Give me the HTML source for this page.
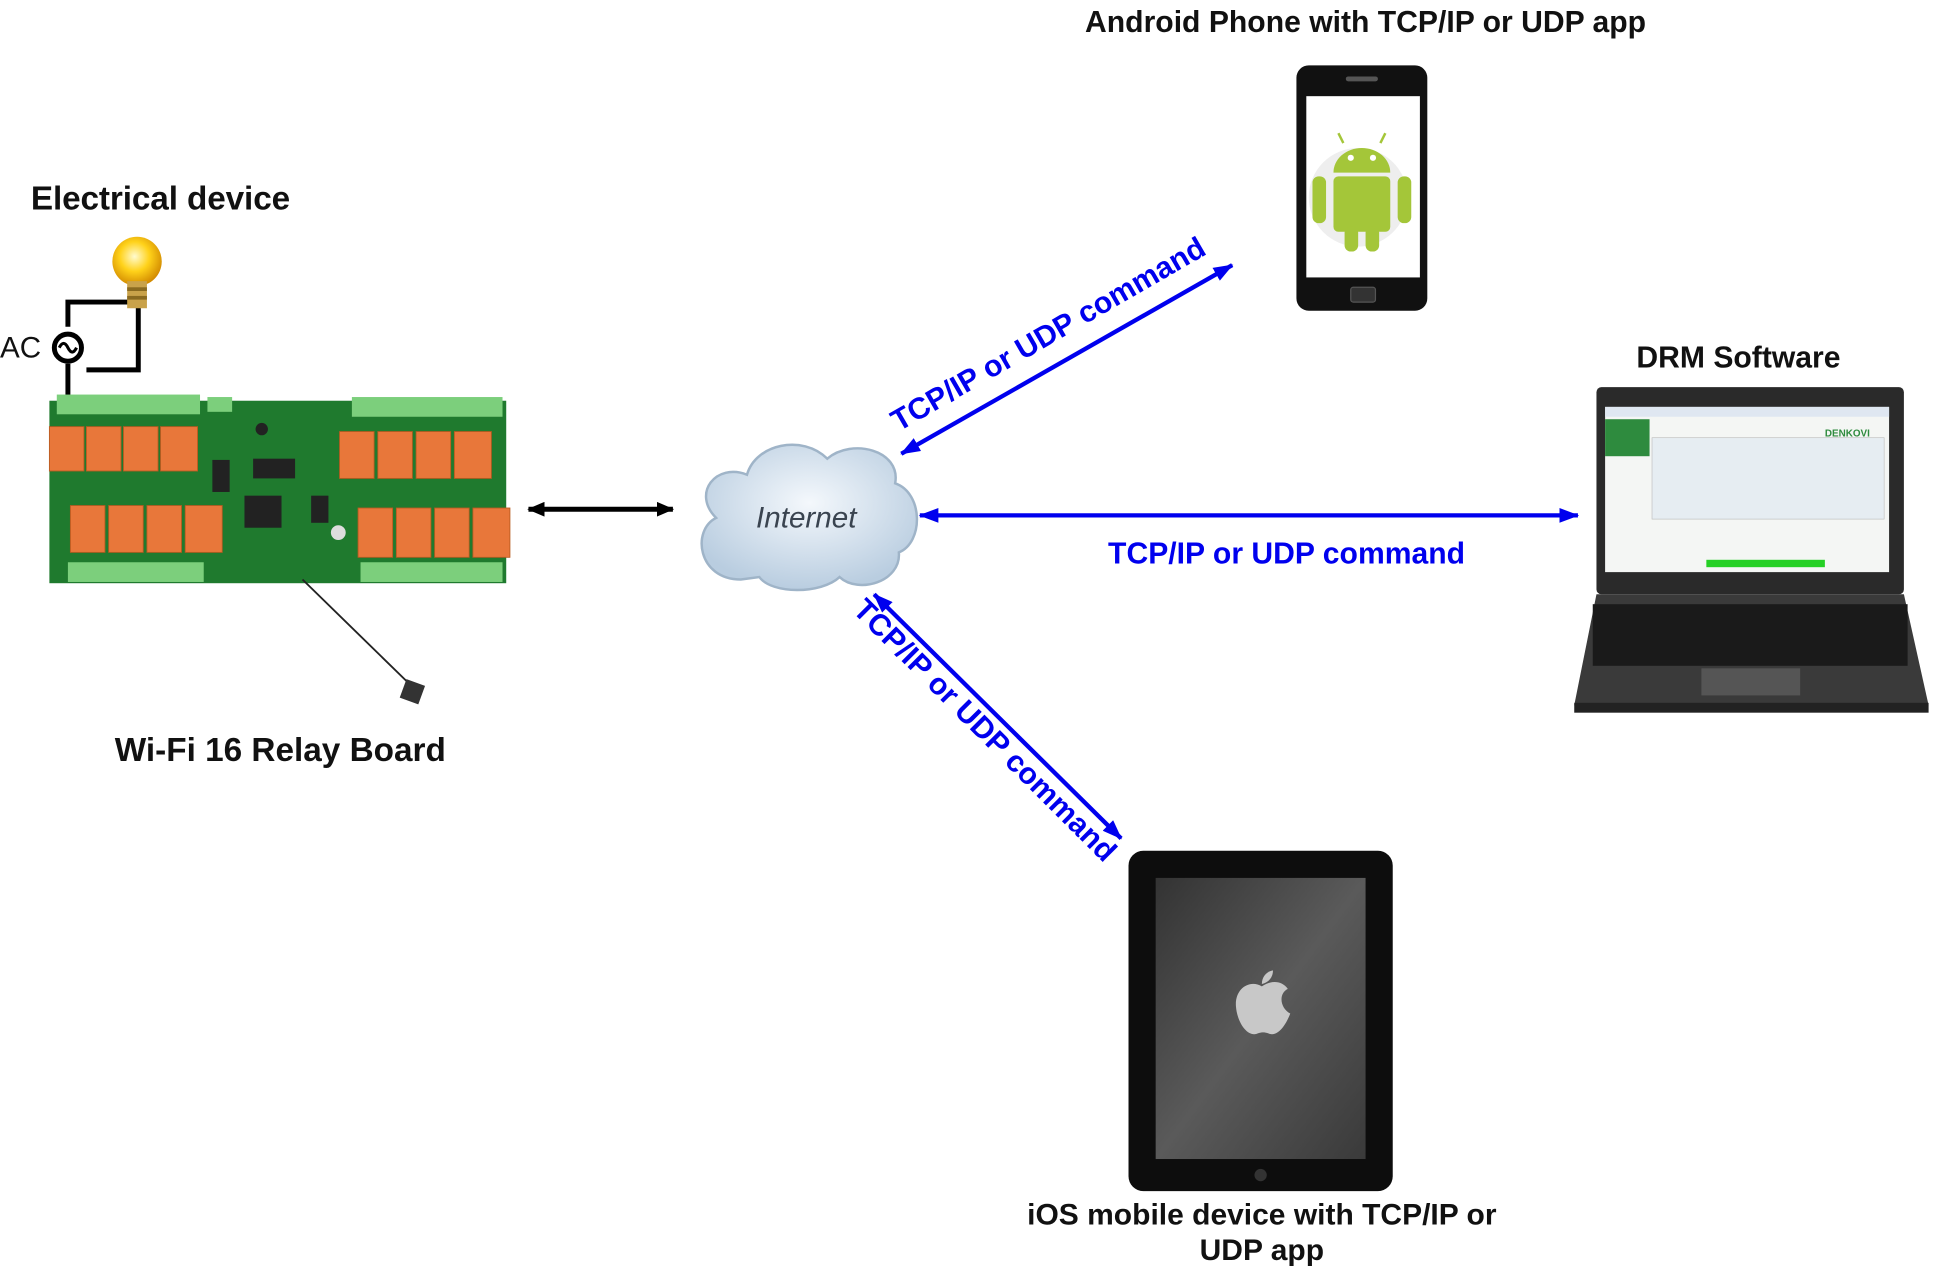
<!DOCTYPE html>
<html><head><meta charset="utf-8"><style>
html,body{margin:0;padding:0;background:#fff;}
svg{display:block;}
text{font-family:"Liberation Sans",Arial,sans-serif;}
</style></head><body>
<svg width="1936" height="1270" viewBox="0 0 1568 1030" preserveAspectRatio="none" xmlns="http://www.w3.org/2000/svg">
<defs>
<marker id="ab" markerWidth="16" markerHeight="12" refX="15" refY="6" orient="auto-start-reverse" markerUnits="userSpaceOnUse"><path d="M0,0 L16,6 L0,12 Z" fill="#0000ee"/></marker>
<marker id="ak" markerWidth="14" markerHeight="12" refX="13" refY="6" orient="auto-start-reverse" markerUnits="userSpaceOnUse"><path d="M0,0 L14,6 L0,12 Z" fill="#000"/></marker>
<radialGradient id="cl" cx="50%" cy="40%" r="60%"><stop offset="0" stop-color="#f4f8fc"/><stop offset="1" stop-color="#b9cde0"/></radialGradient>
<linearGradient id="ip" x1="0" y1="0" x2="1" y2="1"><stop offset="0" stop-color="#333"/><stop offset="0.5" stop-color="#5a5a5a"/><stop offset="1" stop-color="#3a3a3a"/></linearGradient>
<radialGradient id="bulb" cx="45%" cy="40%" r="60%"><stop offset="0" stop-color="#fffbd0"/><stop offset="0.5" stop-color="#ffd21a"/><stop offset="1" stop-color="#d28a00"/></radialGradient>
</defs>

<text x="1106" y="26" font-size="24.4" font-weight="bold" text-anchor="middle" fill="#111">Android Phone with TCP/IP or UDP app</text>
<text x="25" y="170" font-size="27" font-weight="bold" fill="#111" textLength="210">Electrical device</text>
<text x="227" y="617" font-size="27" font-weight="bold" text-anchor="middle" fill="#111">Wi-Fi 16 Relay Board</text>
<text x="1408" y="298" font-size="24.4" font-weight="bold" text-anchor="middle" fill="#111">DRM Software</text>
<text x="1022" y="993" font-size="24.3" font-weight="bold" text-anchor="middle" fill="#111">iOS mobile device with TCP/IP or</text>
<text x="1022" y="1022" font-size="24.3" font-weight="bold" text-anchor="middle" fill="#111">UDP app</text>

<!-- Phone -->
<rect x="1050" y="53" width="106" height="199" rx="10" fill="#111"/>
<rect x="1058" y="78" width="92" height="147" fill="#fff"/>
<rect x="1090" y="62" width="26" height="4" rx="2" fill="#555"/>
<rect x="1094" y="233" width="20" height="12" rx="2" fill="#333" stroke="#555"/>
<circle cx="1100" cy="160" r="40" fill="#eee"/>
<path d="M1080,140 a23,20 0 0 1 46,0 z" fill="#a4c639"/>
<rect x="1080" y="143" width="46" height="45" rx="4" fill="#a4c639"/>
<rect x="1063" y="143" width="11" height="38" rx="5" fill="#a4c639"/>
<rect x="1132" y="143" width="11" height="38" rx="5" fill="#a4c639"/>
<rect x="1089" y="184" width="11" height="20" rx="5" fill="#a4c639"/>
<rect x="1106" y="184" width="11" height="20" rx="5" fill="#a4c639"/>
<circle cx="1094" cy="128" r="2.5" fill="#fff"/><circle cx="1112" cy="128" r="2.5" fill="#fff"/>
<line x1="1088" y1="116" x2="1084" y2="108" stroke="#a4c639" stroke-width="2"/>
<line x1="1118" y1="116" x2="1122" y2="108" stroke="#a4c639" stroke-width="2"/>

<!-- Bulb & wiring -->
<path d="M55,265 V245 H112 V300 H70" fill="none" stroke="#000" stroke-width="4"/>
<line x1="55" y1="295" x2="55" y2="322" stroke="#000" stroke-width="4"/>
<circle cx="55" cy="282" r="11" fill="#fff" stroke="#000" stroke-width="4"/>
<path d="M48,282 q3.5,-7 7,0 q3.5,7 7,0" fill="none" stroke="#000" stroke-width="2.5"/>
<text x="0" y="290" font-size="24" fill="#111">AC</text>
<circle cx="111" cy="212" r="20" fill="url(#bulb)"/>
<rect x="103" y="228" width="16" height="22" fill="#c9a24a"/>
<rect x="103" y="233" width="16" height="3" fill="#8a6a20"/><rect x="103" y="240" width="16" height="3" fill="#8a6a20"/>

<!-- Relay board -->
<rect x="40" y="325" width="370" height="148" fill="#1f7a2e"/>
<rect x="46" y="320" width="116" height="16" fill="#7ccf7c"/>
<rect x="285" y="322" width="122" height="16" fill="#7ccf7c"/>
<rect x="55" y="456" width="110" height="16" fill="#7ccf7c"/>
<rect x="292" y="456" width="115" height="16" fill="#7ccf7c"/>
<rect x="168" y="322" width="20" height="12" fill="#7ccf7c"/>
<g fill="#e8773a" stroke="#b85a20" stroke-width="0.7">
<rect x="40" y="346" width="28" height="36"/><rect x="70" y="346" width="28" height="36"/><rect x="100" y="346" width="28" height="36"/><rect x="130" y="346" width="30" height="36"/>
<rect x="57" y="410" width="28" height="38"/><rect x="88" y="410" width="28" height="38"/><rect x="119" y="410" width="28" height="38"/><rect x="150" y="410" width="30" height="38"/>
<rect x="275" y="350" width="28" height="38"/><rect x="306" y="350" width="28" height="38"/><rect x="337" y="350" width="28" height="38"/><rect x="368" y="350" width="30" height="38"/>
<rect x="290" y="412" width="28" height="40"/><rect x="321" y="412" width="28" height="40"/><rect x="352" y="412" width="28" height="40"/><rect x="383" y="412" width="30" height="40"/>
</g>
<rect x="198" y="402" width="30" height="26" fill="#222"/>
<rect x="205" y="372" width="34" height="16" fill="#222"/>
<rect x="172" y="373" width="14" height="26" fill="#222"/>
<rect x="252" y="402" width="14" height="22" fill="#222"/>
<circle cx="274" cy="432" r="6" fill="#ddd"/>
<circle cx="212" cy="348" r="5" fill="#222"/>
<line x1="245" y1="470" x2="335" y2="558" stroke="#222" stroke-width="1.5"/>
<rect x="326" y="553" width="16" height="16" fill="#333" transform="rotate(20 334 561)"/>

<line x1="428" y1="413" x2="545" y2="413" stroke="#000" stroke-width="4" marker-start="url(#ak)" marker-end="url(#ak)"/>

<!-- Cloud -->
<path d="M600,470 C565,470 560,430 580,420 C560,400 580,375 605,385 C612,360 650,352 670,372 C690,355 730,365 725,392 C748,400 748,440 728,448 C730,472 695,482 680,468 C665,482 625,482 615,468 Z" fill="url(#cl)" stroke="#9fb4c8" stroke-width="2"/>
<text x="653" y="428" font-size="24" font-style="italic" text-anchor="middle" fill="#3a4450">Internet</text>

<g stroke="#0000ee" stroke-width="3.5" fill="none">
<line x1="745" y1="418" x2="1278" y2="418" marker-start="url(#ab)" marker-end="url(#ab)"/>
<line x1="730" y1="368" x2="998" y2="215" marker-start="url(#ab)" marker-end="url(#ab)"/>
<line x1="708" y1="482" x2="908" y2="680" marker-start="url(#ab)" marker-end="url(#ab)"/>
</g>
<g font-size="24.4" font-weight="bold" fill="#0000ee" text-anchor="middle">
<text x="1042" y="457">TCP/IP or UDP command</text>
<text transform="translate(853,278) rotate(-30)">TCP/IP or UDP command</text>
<text transform="translate(792,598) rotate(45)">TCP/IP or UDP command</text>
</g>

<!-- Laptop -->
<rect x="1293" y="314" width="249" height="168" rx="4" fill="#2a2a2a"/>
<rect x="1300" y="330" width="230" height="134" fill="#f4f6f4"/>
<rect x="1300" y="330" width="230" height="8" fill="#dfe7f1"/>
<rect x="1300" y="340" width="36" height="30" fill="#2e8b3e"/>
<rect x="1338" y="355" width="188" height="66" fill="#e6edf2" stroke="#bbb" stroke-width="0.5"/>
<rect x="1382" y="454" width="96" height="6" fill="#25d025"/>
<text x="1478" y="354" font-size="8" font-weight="bold" fill="#2e8b3e">DENKOVI</text>
<path d="M1293,482 H1542 L1562,572 H1275 Z" fill="#3a3a3a"/>
<rect x="1290" y="490" width="255" height="50" fill="#1a1a1a"/>
<rect x="1378" y="542" width="80" height="22" fill="#555"/>
<rect x="1275" y="570" width="287" height="8" fill="#222"/>

<!-- iPad -->
<rect x="914" y="690" width="214" height="276" rx="12" fill="#0d0d0d"/>
<rect x="936" y="712" width="170" height="228" fill="url(#ip)"/>
<circle cx="1021" cy="953" r="5" fill="#333"/>
<path d="M1022,800 c-10,-6 -22,2 -21,16 c1,14 10,26 18,22 c3,-1 5,-1 8,0 c8,4 15,-8 18,-16 c-8,-4 -10,-16 -2,-20 c-5,-7 -14,-7 -21,-2 z" fill="#c8c8c8"/>
<path d="M1022,798 c0,-6 4,-10 9,-11 c0,6 -4,10 -9,11 z" fill="#c8c8c8"/>
</svg>
</body></html>
